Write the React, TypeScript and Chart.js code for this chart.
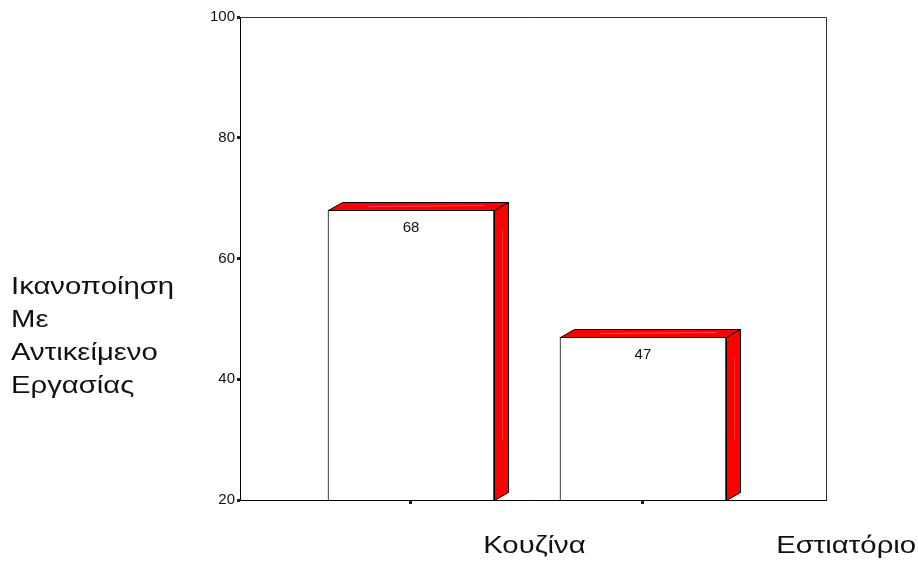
import { useEffect, useRef } from "react";
import { Chart, registerables } from "chart.js";

Chart.register(...registerables);

// Job satisfaction by workplace
const categories = ["Κουζίνα", "Εστιατόριο"];
const satisfaction = [68, 47];
const yTicks = [20, 40, 60, 80, 100];
const yTitleLines = ["Ικανοποίηση", "Με", "Αντικείμενο", "Εργασίας"];

const FONT = '"Liberation Sans", Arial, sans-serif';
const RED = "#ff0000";
const DEPTH_X = 14;
const DEPTH_Y = 8;
const WIDE = 1.22; // horizontal stretch of the large captions

// Extruded top and side faces for each bar, plus the value printed inside
const bar3d = {
  id: "bar3d",
  afterDatasetsDraw(chart: any) {
    const ctx = chart.ctx as CanvasRenderingContext2D;
    const meta = chart.getDatasetMeta(0);
    const floor = chart.scales.y.getPixelForValue(yTicks[0]);
    meta.data.forEach((bar: any, i: number) => {
      const { x, y, width } = bar.getProps(["x", "y", "width"], true);
      const l = Math.round(x - width / 2) + 0.5;
      const r = Math.round(x + width / 2) + 0.5;
      const t = Math.round(y) + 0.5;
      const b = Math.round(floor) + 0.5;
      ctx.save();
      ctx.lineWidth = 1;
      ctx.strokeStyle = "#000";
      ctx.lineJoin = "miter";

      // top face
      ctx.fillStyle = RED;
      ctx.beginPath();
      ctx.moveTo(l, t);
      ctx.lineTo(r, t);
      ctx.lineTo(r + DEPTH_X, t - DEPTH_Y);
      ctx.lineTo(l + DEPTH_X, t - DEPTH_Y);
      ctx.closePath();
      ctx.fill();
      ctx.stroke();

      // side face
      ctx.beginPath();
      ctx.moveTo(r, t);
      ctx.lineTo(r + DEPTH_X, t - DEPTH_Y);
      ctx.lineTo(r + DEPTH_X, b - DEPTH_Y);
      ctx.lineTo(r, b);
      ctx.closePath();
      ctx.fill();
      ctx.stroke();

      // soft sheen on the red faces
      ctx.strokeStyle = "rgba(255,170,170,0.45)";
      ctx.beginPath();
      ctx.moveTo(l + 40, t - 4);
      ctx.lineTo(r - 10, t - 5);
      ctx.stroke();
      ctx.strokeStyle = "rgba(255,170,170,0.3)";
      ctx.beginPath();
      ctx.moveTo(r + DEPTH_X / 2 + 1, t + 20);
      ctx.lineTo(r + DEPTH_X / 2 + 1, b - 60);
      ctx.stroke();

      // value label
      ctx.fillStyle = "#111";
      ctx.font = `15px ${FONT}`;
      ctx.textAlign = "center";
      ctx.textBaseline = "alphabetic";
      ctx.fillText(String(satisfaction[i]), x, y + 22);
      ctx.restore();
    });
  },
};

// Closing lines of the plot frame (top and right)
const frame = {
  id: "frame",
  beforeDatasetsDraw(chart: any) {
    const { ctx, chartArea } = chart;
    const { left, right, top, bottom } = chartArea;
    ctx.save();
    ctx.strokeStyle = "#333";
    ctx.lineWidth = 1;
    ctx.beginPath();
    ctx.moveTo(left, Math.round(top) + 0.5);
    ctx.lineTo(Math.round(right) + 0.5, Math.round(top) + 0.5);
    ctx.lineTo(Math.round(right) + 0.5, bottom);
    ctx.stroke();
    ctx.restore();
  },
};

function wideText(ctx: CanvasRenderingContext2D, text: string, x: number, y: number) {
  ctx.save();
  ctx.translate(x, y);
  ctx.scale(WIDE, 1);
  ctx.fillText(text, 0, 0);
  ctx.restore();
}

// Category names under the axis and the horizontal multi-line axis title
const labels = {
  id: "labels",
  afterDraw(chart: any) {
    const { ctx, chartArea } = chart;
    ctx.save();
    ctx.fillStyle = "#111";
    ctx.font = `24px ${FONT}`;
    ctx.textAlign = "left";
    ctx.textBaseline = "alphabetic";
    categories.forEach((c, i) => {
      const x = chartArea.left + chartArea.width * (0.415 + 0.5 * i);
      wideText(ctx, c, x, 553);
    });
    yTitleLines.forEach((line, i) => {
      wideText(ctx, line, 11, 294 + 33 * i);
    });
    ctx.restore();
  },
};

export default function App() {
  const ref = useRef<HTMLCanvasElement | null>(null);

  useEffect(() => {
    if (!ref.current) return;
    const chart = new Chart(ref.current, {
      type: "bar",
      data: {
        datasets: [
          {
            label: "Ικανοποίηση Με Αντικείμενο Εργασίας",
            data: satisfaction.map((v, i) => ({ x: i, y: v })),
            backgroundColor: "#ffffff",
            borderColor: "#000000",
            borderWidth: 1,
            barThickness: 166,
          },
        ],
      },
      options: {
        responsive: false,
        animation: false,
        layout: { padding: { left: 0, right: 92, top: 17, bottom: 0 } },
        plugins: {
          legend: { display: false },
          tooltip: { enabled: false },
        },
        scales: {
          x: {
            type: "linear",
            offset: false,
            min: -0.737,
            max: 1.789,
            afterBuildTicks: (scale: any) => {
              scale.ticks = categories.map((_, i) => ({ value: i }));
            },
            afterFit: (scale: any) => {
              scale.height = 62;
            },
            ticks: { display: false },
            grid: {
              offset: false,
              drawOnChartArea: false,
              drawTicks: true,
              tickLength: 4,
              tickWidth: 3,
              tickColor: "#222",
            },
            border: { display: true, color: "#000", width: 1 },
          },
          y: {
            min: yTicks[0],
            max: yTicks[yTicks.length - 1],
            afterBuildTicks: (scale: any) => {
              scale.ticks = yTicks.map((v) => ({ value: v }));
            },
            afterFit: (scale: any) => {
              scale.width = 240;
            },
            ticks: {
              color: "#111",
              font: { family: FONT, size: 15 },
              padding: 2,
            },
            grid: {
              drawOnChartArea: false,
              drawTicks: true,
              tickLength: 3,
              tickWidth: 3,
              tickColor: "#222",
            },
            border: { display: true, color: "#000", width: 1 },
          },
        },
      },
      plugins: [frame, bar3d, labels],
    });
    return () => chart.destroy();
  }, []);

  return (
    <div style={{ position: "fixed", left: 0, top: 0, width: 918, height: 562, background: "#fff" }}>
      <canvas ref={ref} width={918} height={562} style={{ display: "block" }} />
    </div>
  );
}
